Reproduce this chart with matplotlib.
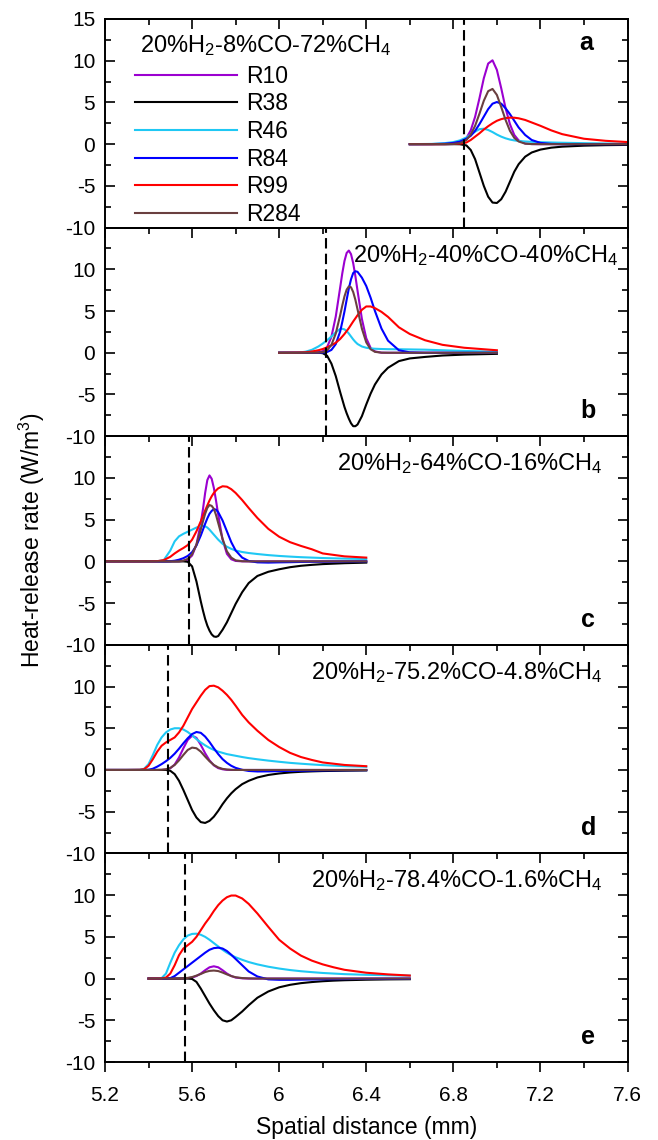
import matplotlib
matplotlib.use('Agg')
import matplotlib.pyplot as plt
from matplotlib.ticker import MultipleLocator, FuncFormatter

plt.rcParams['font.family'] = ['Liberation Sans', 'DejaVu Sans']
plt.rcParams['mathtext.fontset'] = 'custom'
plt.rcParams['mathtext.rm'] = 'Liberation Sans'
plt.rcParams['mathtext.it'] = 'Liberation Sans:italic'
plt.rcParams['axes.unicode_minus'] = False

labels = ['R10', 'R38', 'R46', 'R84', 'R99', 'R284']
colors = ['#9B00D0', '#000000', '#1FC8F4', '#0000FF', '#FF0000', '#6A3F3F']

# Panel a: 20%H2-8%CO-72%CH4
a_x = [6.60, 6.70, 6.76, 6.80, 6.83, 6.86, 6.88, 6.90, 6.92, 6.94, 6.96, 6.98, 7.00,
       7.02, 7.04, 7.06, 7.08, 7.10, 7.13, 7.16, 7.20, 7.25, 7.30, 7.40, 7.50, 7.60]
a_r10 = [0, 0, 0, 0.02, 0.15, 0.72, 1.66, 3.28, 5.5, 7.9, 9.66, 10.05, 8.9,
         6.7, 4.3, 2.4, 1.1, 0.45, 0.08, 0.01, 0, 0, 0, 0, 0, 0]
a_r38 = [0, 0, 0, 0, -0.01, -0.15, -0.7, -1.8, -3.4, -5.0, -6.3, -7.0, -7.05,
         -6.6, -5.7, -4.5, -3.3, -2.4, -1.5, -1.0, -0.65, -0.42, -0.3, -0.18, -0.12, -0.09]
a_r46 = [0, 0.03, 0.12, 0.25, 0.45, 0.8, 1.15, 1.5, 1.8, 1.85, 1.7, 1.45, 1.15,
         0.9, 0.7, 0.55, 0.45, 0.38, 0.32, 0.28, 0.24, 0.2, 0.17, 0.12, 0.08, 0.06]
a_r84 = [0, 0.01, 0.05, 0.15, 0.3, 0.65, 1.0, 1.6, 2.4, 3.3, 4.2, 4.85, 5.05,
         4.85, 4.3, 3.6, 2.8, 2.0, 1.1, 0.5, 0.15, 0.03, 0, 0, 0, 0]
a_r99 = [0, 0, 0.01, 0.03, 0.06, 0.2, 0.5, 0.9, 1.3, 1.75, 2.15, 2.5, 2.8,
         3.0, 3.12, 3.18, 3.17, 3.1, 2.9, 2.6, 2.2, 1.65, 1.2, 0.65, 0.4, 0.25]
a_r284 = [0, 0, 0, 0.02, 0.12, 0.5, 1.15, 2.2, 3.65, 5.2, 6.35, 6.62, 5.9,
          4.45, 2.9, 1.6, 0.75, 0.32, 0.06, 0.01, 0, 0, 0, 0, 0, 0]

# Panel b: 20%H2-40%CO-40%CH4
b_x = [6.00, 6.08, 6.12, 6.15, 6.18, 6.20, 6.22, 6.24, 6.26, 6.28, 6.29, 6.30, 6.31, 6.32, 6.33, 6.34, 6.35,
       6.36, 6.38, 6.40, 6.42, 6.44, 6.47, 6.50, 6.55, 6.60, 6.67, 6.75, 6.85, 7.00]
b_r10 = [0, 0, 0, 0.01, 0.04, 0.18, 0.66, 1.91, 4.35, 7.79, 9.53, 11.0, 11.96, 12.25, 11.82, 10.74, 9.2,
         7.43, 4.05, 1.74, 0.59, 0.16, 0.01, 0, 0, 0, 0, 0, 0, 0]
b_r38 = [0, 0, 0, 0, 0, -0.05, -0.35, -1.3, -2.8, -4.7, -5.6, -6.5, -7.25, -7.9, -8.45, -8.8, -8.8,
         -8.6, -7.6, -6.2, -4.9, -3.8, -2.6, -1.8, -1.0, -0.68, -0.5, -0.33, -0.22, -0.13]
b_r46 = [0, 0, 0.12, 0.35, 0.75, 1.1, 1.5, 1.95, 2.45, 2.85, 2.87, 2.8, 2.6, 2.3, 1.95, 1.6, 1.3,
         1.05, 0.75, 0.6, 0.52, 0.48, 0.45, 0.43, 0.42, 0.4, 0.37, 0.3, 0.22, 0.12]
b_r84 = [0, 0, 0, 0, 0, 0.02, 0.09, 0.34, 1.04, 2.53, 3.7, 4.95, 6.35, 7.7, 8.8, 9.55, 9.77,
         9.7, 9.0, 8.0, 6.6, 5.0, 2.9, 1.45, 0.3, 0.05, 0, 0, 0, 0]
b_r99 = [0, 0.02, 0.06, 0.15, 0.3, 0.45, 0.65, 0.9, 1.2, 1.65, 1.95, 2.25, 2.6, 2.95, 3.35, 3.75, 4.12,
         4.5, 5.15, 5.55, 5.55, 5.35, 4.9, 4.3, 3.05, 2.25, 1.5, 0.95, 0.6, 0.3]
b_r284 = [0, 0, 0, 0, 0.01, 0.07, 0.29, 0.93, 2.31, 4.47, 5.67, 6.76, 7.56, 7.95, 7.85, 7.28, 6.35,
          5.2, 2.89, 1.25, 0.42, 0.11, 0.01, 0, 0, 0, 0, 0, 0, 0]

# Panel c: 20%H2-64%CO-16%CH4
c_x = [5.20, 5.30, 5.40, 5.44, 5.47, 5.50, 5.52, 5.54, 5.56, 5.58, 5.60, 5.62, 5.64, 5.65, 5.66, 5.67,
       5.68, 5.69, 5.70, 5.71, 5.72, 5.74, 5.76, 5.78, 5.80, 5.83, 5.86, 5.90, 5.95, 6.00, 6.05, 6.10,
       6.15, 6.20, 6.30, 6.40]
c_r10 = [0, 0, 0, 0, 0, 0, 0, 0.01, 0.05, 0.2, 0.7, 2.0, 4.6, 6.25, 8.2, 9.74,
         10.3, 9.9, 8.8, 7.28, 5.6, 2.6, 0.9, 0.25, 0.05, 0, 0, 0, 0, 0, 0, 0,
         0, 0, 0, 0]
c_r38 = [0, 0, 0, 0, 0, 0, 0, 0, 0, -0.05, -0.6, -2.4, -4.8, -5.9, -6.9, -7.7,
         -8.3, -8.75, -9.0, -9.05, -8.95, -8.2, -7.3, -6.2, -5.1, -3.7, -2.6, -1.75, -1.25, -0.95, -0.7, -0.53,
         -0.42, -0.33, -0.22, -0.15]
c_r46 = [0, 0, 0, 0.02, 0.15, 1.3, 2.4, 3.0, 3.3, 3.55, 3.8, 4.05, 4.22, 4.25, 4.2, 4.05,
         3.8, 3.5, 3.2, 2.9, 2.6, 2.1, 1.75, 1.5, 1.3, 1.12, 1.0, 0.88, 0.75, 0.65, 0.57, 0.5,
         0.45, 0.4, 0.33, 0.28]
c_r84 = [0, 0, 0, 0, 0, 0.02, 0.08, 0.2, 0.38, 0.65, 1.1, 1.9, 3.1, 3.8, 4.5, 5.15,
         5.7, 6.05, 6.25, 6.2, 5.9, 4.9, 3.6, 2.3, 1.3, 0.45, 0.05, -0.12, -0.15, -0.12, -0.1, -0.07,
         -0.05, -0.04, -0.02, -0.01]
c_r99 = [0, 0, 0, 0.02, 0.15, 0.55, 0.95, 1.3, 1.6, 1.95, 2.6, 3.6, 4.8, 5.45, 6.1, 6.7,
         7.3, 7.8, 8.2, 8.5, 8.75, 9.0, 8.95, 8.65, 8.2, 7.35, 6.4, 5.2, 3.9, 2.95, 2.3, 1.85,
         1.45, 0.95, 0.6, 0.45]
c_r284 = [0, 0, 0, 0, 0, 0, 0, 0, 0.08, 0.3, 0.85, 2.0, 3.8, 4.8, 5.7, 6.4,
          6.75, 6.65, 6.3, 5.55, 4.6, 2.7, 1.2, 0.45, 0.12, 0.02, 0, 0, 0, 0, 0, 0,
          0, 0, 0, 0]

# Panel d: 20%H2-75.2%CO-4.8%CH4
d_x = [5.20, 5.30, 5.36, 5.38, 5.40, 5.42, 5.44, 5.46, 5.48, 5.50, 5.52, 5.54, 5.56, 5.58, 5.60, 5.62, 5.64, 5.66,
       5.68, 5.70, 5.72, 5.74, 5.76, 5.78, 5.80, 5.83, 5.86, 5.90, 5.95, 6.00, 6.05, 6.10, 6.15, 6.20, 6.30, 6.40]
d_r10 = [0, 0, 0, 0, 0, 0, 0, 0, 0.05, 0.2, 0.65, 1.5, 2.6, 3.6, 4.1, 3.85, 3.0, 2.0,
         1.15, 0.55, 0.22, 0.08, 0.02, 0, 0, 0, 0, 0, 0, 0, 0, 0, 0, 0, 0, 0]
d_r38 = [0, 0, 0, 0, 0, 0, 0, 0, 0, -0.1, -0.5, -1.3, -2.4, -3.6, -4.8, -5.7, -6.25, -6.35,
         -6.1, -5.6, -4.9, -4.1, -3.4, -2.8, -2.3, -1.7, -1.3, -0.9, -0.6, -0.42, -0.3, -0.22, -0.17, -0.13, -0.09, -0.06]
d_r46 = [0, 0, 0.02, 0.15, 0.7, 1.8, 3.0, 3.9, 4.5, 4.85, 5.0, 5.0, 4.85, 4.55, 4.15, 3.7, 3.3, 2.95,
         2.65, 2.4, 2.2, 2.05, 1.9, 1.8, 1.7, 1.55, 1.42, 1.28, 1.12, 0.98, 0.85, 0.75, 0.66, 0.58, 0.46, 0.38]
d_r84 = [0, 0, 0, 0, 0.02, 0.15, 0.4, 0.7, 1.05, 1.45, 1.95, 2.55, 3.2, 3.8, 4.3, 4.55, 4.45, 4.0,
         3.35, 2.6, 1.9, 1.3, 0.85, 0.5, 0.25, 0.02, -0.12, -0.18, -0.17, -0.14, -0.11, -0.09, -0.07, -0.05, -0.03, -0.02]
d_r99 = [0, 0, 0.02, 0.1, 0.5, 1.3, 2.2, 2.9, 3.3, 3.6, 3.9, 4.5, 5.3, 6.3, 7.3, 8.1, 8.9, 9.6,
         10.05, 10.1, 9.9, 9.5, 9.0, 8.4, 7.7, 6.6, 5.7, 4.7, 3.6, 2.75, 2.05, 1.55, 1.2, 0.9, 0.6, 0.45]
d_r284 = [0, 0, 0, 0, 0, 0, 0, 0.02, 0.08, 0.25, 0.6, 1.15, 1.8, 2.4, 2.68, 2.6, 2.2, 1.6,
          1.05, 0.6, 0.3, 0.13, 0.05, 0.02, 0, 0, 0, 0, 0, 0, 0, 0, 0, 0, 0, 0]

# Panel e: 20%H2-78.4%CO-1.6%CH4
e_x = [5.40, 5.46, 5.48, 5.50, 5.52, 5.54, 5.56, 5.58, 5.60, 5.62, 5.64, 5.66, 5.68, 5.70, 5.72, 5.74, 5.76,
       5.78, 5.80, 5.83, 5.86, 5.90, 5.95, 6.00, 6.05, 6.10, 6.15, 6.20, 6.25, 6.30, 6.40, 6.50, 6.60]
e_r10 = [0, 0, 0, 0, 0, 0, 0.02, 0.05, 0.12, 0.3, 0.6, 1.0, 1.35, 1.47, 1.35, 1.0, 0.6,
         0.3, 0.12, 0.03, 0, 0, 0, 0, 0, 0, 0, 0, 0, 0, 0, 0, 0]
e_r38 = [0, 0, 0, 0, 0, 0, 0, 0, -0.05, -0.4, -1.2, -2.1, -3.0, -3.8, -4.5, -5.0, -5.15,
         -5.0, -4.6, -3.95, -3.2, -2.3, -1.55, -1.05, -0.75, -0.55, -0.42, -0.32, -0.25, -0.2, -0.14, -0.1, -0.08]
e_r46 = [0, 0.05, 0.6, 1.9, 3.1, 4.0, 4.7, 5.15, 5.35, 5.38, 5.25, 5.0, 4.65, 4.25, 3.85, 3.45, 3.1,
         2.8, 2.55, 2.25, 1.98, 1.7, 1.42, 1.2, 1.02, 0.88, 0.77, 0.67, 0.6, 0.53, 0.45, 0.4, 0.35]
e_r84 = [0, 0, 0, 0.05, 0.3, 0.7, 1.1, 1.5, 1.9, 2.3, 2.7, 3.1, 3.45, 3.65, 3.7, 3.6, 3.3,
         2.85, 2.35, 1.6, 0.85, 0.25, -0.1, -0.15, -0.15, -0.13, -0.11, -0.09, -0.07, -0.06, -0.04, -0.03, -0.02]
e_r99 = [0, 0.02, 0.12, 0.6, 1.6, 2.8, 3.6, 4.0, 4.4, 5.0, 5.8, 6.6, 7.3, 8.1, 8.8, 9.35, 9.75,
         9.95, 9.95, 9.6, 8.95, 7.8, 6.2, 4.65, 3.6, 2.75, 2.15, 1.7, 1.35, 1.05, 0.7, 0.5, 0.36]
e_r284 = [0, 0, 0, 0, 0, 0, 0.03, 0.08, 0.18, 0.35, 0.55, 0.78, 0.92, 0.96, 0.9, 0.72, 0.5,
          0.3, 0.16, 0.06, 0.02, 0, 0, 0, 0, 0, 0, 0, 0, 0, 0, 0, 0]

compositions = ['20%H$_2$-8%CO-72%CH$_4$', '20%H$_2$-40%CO-40%CH$_4$', '20%H$_2$-64%CO-16%CH$_4$',
                '20%H$_2$-75.2%CO-4.8%CH$_4$', '20%H$_2$-78.4%CO-1.6%CH$_4$']
flame_pos = [6.847, 6.215, 5.588, 5.490, 5.567]
letters = ['a', 'b', 'c', 'd', 'e']

panels = [
    (a_x, [a_r10, a_r38, a_r46, a_r84, a_r99, a_r284]),
    (b_x, [b_r10, b_r38, b_r46, b_r84, b_r99, b_r284]),
    (c_x, [c_r10, c_r38, c_r46, c_r84, c_r99, c_r284]),
    (d_x, [d_r10, d_r38, d_r46, d_r84, d_r99, d_r284]),
    (e_x, [e_r10, e_r38, e_r46, e_r84, e_r99, e_r284]),
]

W, H = 658, 1140
left, right, top, ph = 105, 627.5, 19, 208.6
fs = 15
tfs = 17

fig = plt.figure(figsize=(W / 100, H / 100), dpi=100)

for i, (xs, series) in enumerate(panels):
    ax = fig.add_axes([left / W, 1 - (top + (i + 1) * ph) / H, (right - left) / W, ph / H])
    for ys, lab, col in zip(series, labels, colors):
        ax.plot(xs, ys, color=col, lw=1.5, label=lab)
    ax.axvline(flame_pos[i], color='k', lw=1.5, ls=(0, (5, 2.5)))

    ax.set_xlim(5.2, 7.6)
    ax.set_ylim(-10, 15)
    ax.xaxis.set_major_locator(MultipleLocator(0.4))
    ax.xaxis.set_minor_locator(MultipleLocator(0.2))
    ax.xaxis.set_major_formatter(FuncFormatter(lambda v, p: '%g' % round(v, 2)))
    ax.set_yticks([-10, -5, 0, 5, 10, 15])
    ax.set_yticklabels(['-10', '-5', '0', '5', '10', '15' if i == 0 else ''])
    ax.yaxis.set_minor_locator(MultipleLocator(2.5))

    for s in ax.spines.values():
        s.set_linewidth(1.4)
    ax.tick_params(axis='y', which='both', direction='in', left=True, right=True,
                   labelsize=fs, pad=7, width=1.2)
    ax.tick_params(axis='y', which='major', length=7)
    ax.tick_params(axis='y', which='minor', length=4)
    ax.tick_params(axis='x', which='both', direction='out', bottom=True, top=False,
                   labelbottom=(i == 4), labelsize=fs, pad=10, width=1.2)
    ax.tick_params(axis='x', which='major', length=7.5)
    ax.tick_params(axis='x', which='minor', length=4)

    sec = ax.secondary_xaxis('top')
    sec.xaxis.set_major_locator(MultipleLocator(0.4))
    sec.xaxis.set_minor_locator(MultipleLocator(0.2))
    sec.tick_params(axis='x', which='both', direction='in', labeltop=False, width=1.2)
    sec.tick_params(axis='x', which='major', length=7)
    sec.tick_params(axis='x', which='minor', length=4)
    sec.spines['top'].set_linewidth(1.4)

    if i == 0:
        ax.text(0.067, 0.875, compositions[i], transform=ax.transAxes, fontsize=tfs,
                ha='left', va='center')
        ax.legend(loc='upper left', bbox_to_anchor=(0.058, 0.78), frameon=False, fontsize=16.5,
                  handlelength=4.45, handletextpad=0.4, labelspacing=0.2, borderpad=0,
                  borderaxespad=0)
        ax.text(0.921, 0.885, letters[i], transform=ax.transAxes, fontsize=fs + 3,
                fontweight='bold', ha='center', va='center')
    else:
        ax.text(0.983 if i == 1 else 0.952, 0.868, compositions[i], transform=ax.transAxes,
                fontsize=tfs, ha='right', va='center')
        ax.text(0.925, 0.12, letters[i], transform=ax.transAxes, fontsize=fs + 3,
                fontweight='bold', ha='center', va='center')

    if i == 4:
        ax.set_xlabel('Spatial distance (mm)', fontsize=16.5, labelpad=8)

fig.text(32 / W, 1 - 540 / H, 'Heat-release rate (W/m$^3$)', rotation=90, fontsize=16.5,
         ha='center', va='center')

fig.savefig('out.png', dpi=100)
